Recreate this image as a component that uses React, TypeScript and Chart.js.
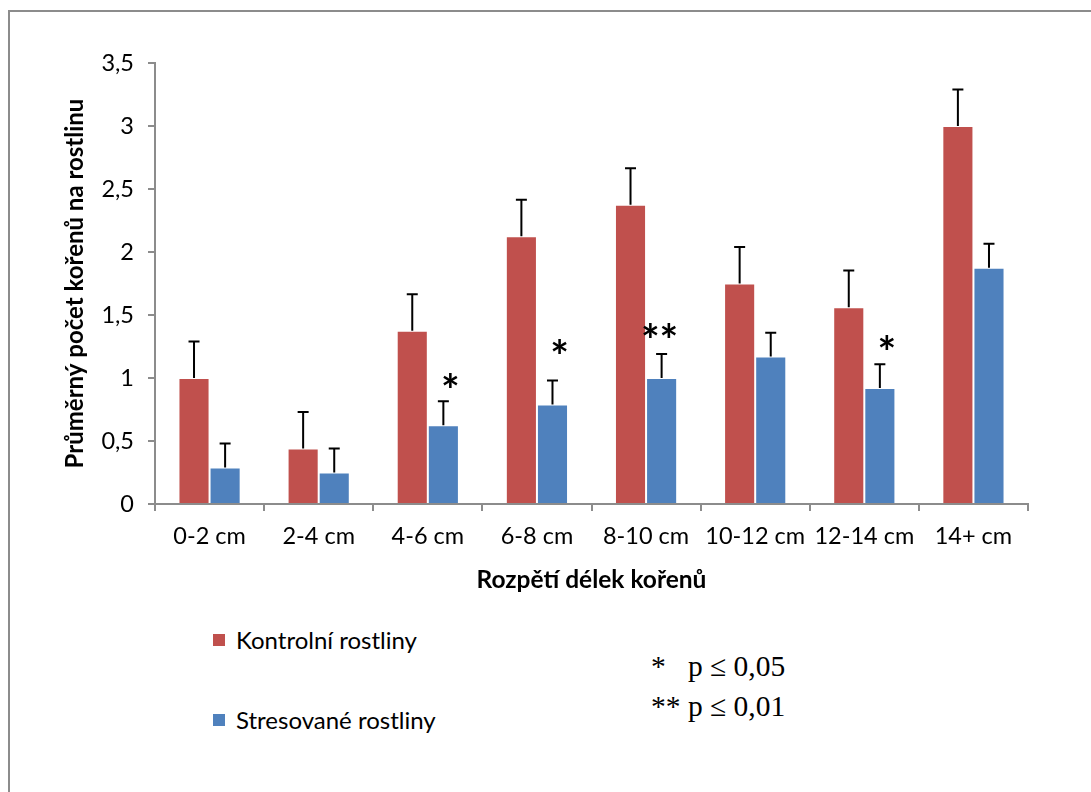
import React, { useEffect, useRef } from 'react';
import { Chart, registerables } from 'chart.js';

Chart.register(...registerables);

const categories = ['0-2 cm', '2-4 cm', '4-6 cm', '6-8 cm', '8-10 cm', '10-12 cm', '12-14 cm', '14+ cm'];
const controlLabel = 'Kontrolní rostliny';
const stressLabel = 'Stresované rostliny';
const controlValues = [1.0, 0.44, 1.375, 2.125, 2.375, 1.75, 1.5625, 3.0];
const controlErrors = [0.29, 0.29, 0.29, 0.29, 0.29, 0.29, 0.29, 0.29];
const stressValues = [0.29, 0.25, 0.625, 0.79, 1.0, 1.17, 0.92, 1.875];
const stressErrors = [0.19, 0.19, 0.19, 0.19, 0.19, 0.19, 0.19, 0.19];
const sigLabels = ['', '', '*', '*', '**', '', '*', ''];
const sigLevels = [0, 0, 0.98, 1.25, 1.37, 0, 1.28, 0];
const yTitle = 'Průměrný počet kořenů na rostlinu';
const xTitle = 'Rozpětí délek kořenů';
const yMin = 0;
const yMax = 3.5;
const yStep = 0.5;
const noteLines = ['*   p \u2264 0,05', '** p \u2264 0,01'];

const RED = '#C0504D';
const BLUE = '#4F81BD';
const AXIS = '#8C8C8C';
const FONT = 'Lato, "Open Sans", sans-serif';

const errorBarPlugin = {
  id: 'errorBars',
  afterDatasetsDraw(chart: any) {
    const ctx = chart.ctx;
    const yScale = chart.scales.y;
    chart.data.datasets.forEach((ds: any, di: number) => {
      const meta = chart.getDatasetMeta(di);
      meta.data.forEach((bar: any, i: number) => {
        const top = yScale.getPixelForValue(ds.data[i] + ds.errors[i]);
        ctx.save();
        ctx.strokeStyle = '#000';
        ctx.lineWidth = 2;
        ctx.beginPath();
        ctx.moveTo(bar.x, bar.y);
        ctx.lineTo(bar.x, top);
        ctx.moveTo(bar.x - 5.5, top);
        ctx.lineTo(bar.x + 5.5, top);
        ctx.stroke();
        ctx.restore();
      });
    });
  },
};

const sigPlugin = {
  id: 'sigMarks',
  afterDatasetsDraw(chart: any) {
    const ctx = chart.ctx;
    const yScale = chart.scales.y;
    const meta = chart.getDatasetMeta(1);
    ctx.save();
    ctx.fillStyle = '#000';
    ctx.font = 'bold 44px ' + FONT;
    ctx.textAlign = 'center';
    ctx.textBaseline = 'alphabetic';
    sigLabels.forEach((lab, i) => {
      if (!lab) return;
      const bar = meta.data[i];
      const y = yScale.getPixelForValue(sigLevels[i]);
      ctx.fillText(lab, bar.x + (lab.length > 1 ? -2 : 7), y + 25);
    });
    ctx.restore();
  },
};

function ChartView() {
  const ref = useRef<HTMLCanvasElement | null>(null);
  useEffect(() => {
    if (!ref.current) return;
    const chart = new Chart(ref.current, {
      type: 'bar',
      data: {
        labels: categories,
        datasets: [
          {
            label: controlLabel,
            data: controlValues,
            errors: controlErrors,
            backgroundColor: RED,
            borderColor: 'rgba(255,255,255,0.35)',
            borderWidth: 1,
            categoryPercentage: 0.57,
            barPercentage: 1.0,
          } as any,
          {
            label: stressLabel,
            data: stressValues,
            errors: stressErrors,
            backgroundColor: BLUE,
            borderColor: 'rgba(255,255,255,0.35)',
            borderWidth: 1,
            categoryPercentage: 0.57,
            barPercentage: 1.0,
          } as any,
        ],
      },
      options: {
        responsive: false,
        animation: false,
        layout: { padding: { top: 55, right: 63, bottom: 4, left: 0 } },
        plugins: {
          legend: { display: false },
          tooltip: { enabled: false },
        },
        scales: {
          x: {
            grid: { drawOnChartArea: false, color: AXIS, tickLength: 7, lineWidth: 2, offset: true },
            border: { color: AXIS, width: 2 },
            ticks: { color: '#000', font: { family: FONT, size: 23.5 }, padding: 11.5 },
            title: {
              display: true,
              text: xTitle,
              color: '#000',
              font: { family: FONT, size: 24.5, weight: 'bold' },
              padding: { top: 0, bottom: 9.3 },
            },
            afterFit: (s: any) => {
              s.height = 100;
            },
          },
          y: {
            min: yMin,
            max: yMax,
            grid: { drawOnChartArea: false, color: AXIS, tickLength: 7, lineWidth: 2 },
            border: { color: AXIS, width: 2 },
            ticks: {
              stepSize: yStep,
              color: '#000',
              font: { family: FONT, size: 23.5 },
              padding: 14,
              callback: (v: any) => String(v).replace('.', ','),
            },
            title: {
              display: true,
              text: yTitle,
              color: '#000',
              font: { family: FONT, size: 24, weight: 'bold' },
              padding: { top: 52.6, bottom: 0 },
            },
            afterFit: (s: any) => {
              s.width = 147;
            },
          },
        },
      } as any,
      plugins: [errorBarPlugin, sigPlugin],
    });
    return () => chart.destroy();
  }, []);
  return <canvas ref={ref} width={1083} height={600} style={{ position: 'absolute', left: 8, top: 8 }} />;
}

export default function App() {
  const legendText: React.CSSProperties = {
    position: 'absolute',
    fontFamily: FONT,
    fontSize: 24,
    color: '#000',
    whiteSpace: 'nowrap',
    lineHeight: '28px',
  };
  return (
    <div style={{ position: 'fixed', left: 0, top: 0, width: 1091, height: 792, overflow: 'hidden', background: '#fff' }}>
      <div
        style={{
          position: 'absolute',
          left: 8,
          top: 10,
          width: 1300,
          height: 1000,
          border: '2px solid ' + AXIS,
          boxSizing: 'border-box',
        }}
      />
      <ChartView />
      <div style={{ position: 'absolute', left: 213, top: 634, width: 12, height: 12, background: RED }} />
      <div style={{ ...legendText, left: 236, top: 626 }}>{controlLabel}</div>
      <div style={{ position: 'absolute', left: 213, top: 714, width: 12, height: 12, background: BLUE }} />
      <div style={{ ...legendText, left: 236, top: 706 }}>{stressLabel}</div>
      {noteLines.map((t, i) => (
        <div
          key={i}
          style={{
            position: 'absolute',
            left: 651,
            top: 649 + i * 40,
            fontFamily: '"Liberation Serif", "Times New Roman", serif',
            fontSize: 29.5,
            lineHeight: '34px',
            whiteSpace: 'pre',
            color: '#000',
          }}
        >
          {t}
        </div>
      ))}
    </div>
  );
}
